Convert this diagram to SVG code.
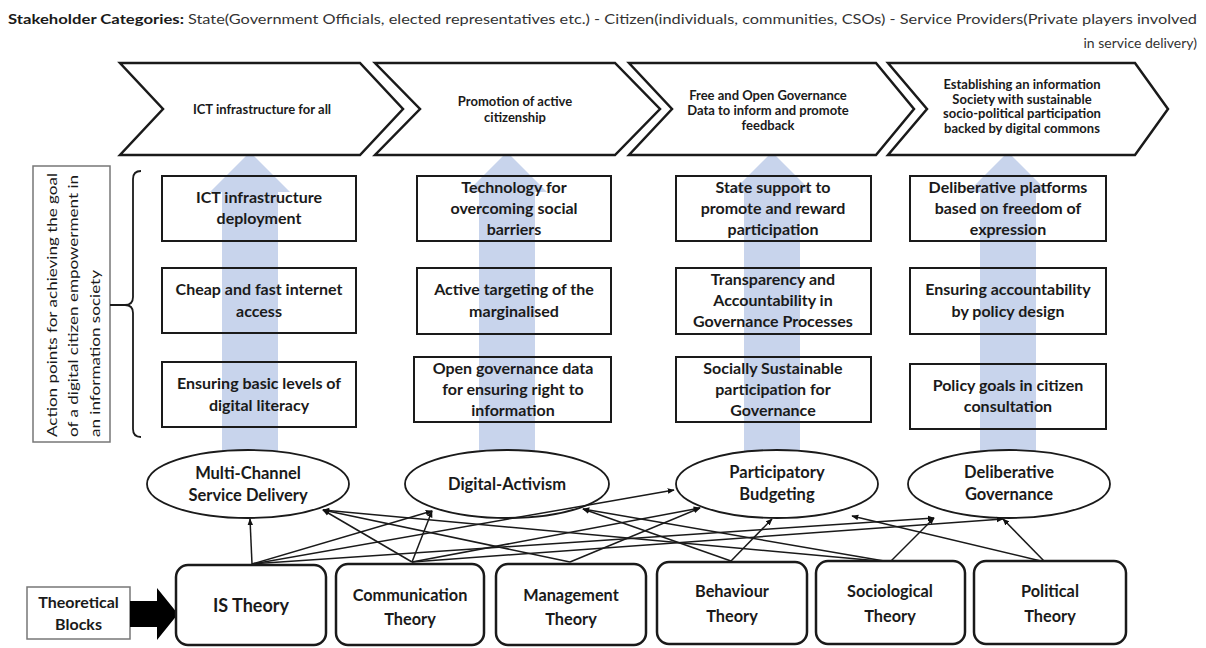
<svg xmlns="http://www.w3.org/2000/svg" width="1206" height="648" viewBox="0 0 1206 648">
<defs>
<style>
text{font-family:Lato,"Open Sans","Liberation Sans",sans-serif;fill:#1a1a1a}
.hb{font-weight:bold;font-size:14px}
.hr{font-size:14px;fill:#333}
.cv{fill:#fff;stroke:#1a1a1a;stroke-width:2.5;stroke-linejoin:miter}
.ct{font-weight:bold;font-size:13px;text-anchor:middle}
.bx{fill:none;stroke:#1a1a1a;stroke-width:2}
.bt{font-weight:bold;font-size:16px;text-anchor:middle}
.ba{fill:#c8d4ec}
.el{fill:#fff;stroke:#1a1a1a;stroke-width:1.8}
.et{font-weight:bold;font-size:16.5px;text-anchor:middle}
.tb{fill:#fff;stroke:#1a1a1a;stroke-width:2.5}
.tt{font-weight:bold;font-size:16.3px;text-anchor:middle}
.cn{stroke:#1a1a1a;stroke-width:1.5;fill:none;marker-end:url(#ah)}
.vt{font-size:14px}
</style>
<marker id="ah" viewBox="0 0 10 10" refX="9" refY="5" markerWidth="7" markerHeight="7" markerUnits="userSpaceOnUse" orient="auto"><path d="M0,1 L10,5 L0,9 z" fill="#111"/></marker>
</defs>
<rect width="1206" height="648" fill="#fff"/>

<g id="header">
<text x="8" y="24" class="hb" textLength="176" lengthAdjust="spacingAndGlyphs">Stakeholder Categories:</text>
<text x="188" y="24" class="hr" textLength="1009" lengthAdjust="spacingAndGlyphs">State(Government Officials, elected representatives etc.) - Citizen(individuals, communities, CSOs) - Service Providers(Private players involved</text>
<text x="1197" y="48" class="hr" text-anchor="end">in  service delivery)</text>
</g>

<g id="blue-arrows">
<path class="ba" d="M250,152 L290,192 L278,192 L278,460 L222,460 L222,192 L210,192 Z"/>
<path class="ba" d="M507,152 L547,192 L535,192 L535,460 L479,460 L479,192 L467,192 Z"/>
<path class="ba" d="M772,152 L812,192 L800,192 L800,460 L744,460 L744,192 L732,192 Z"/>
<path class="ba" d="M1008,152 L1048,192 L1036,192 L1036,460 L980,460 L980,192 L968,192 Z"/>
</g>

<g id="chevron1"><path class="cv" d="M120,63 L360,63 L403,109 L360,155 L120,155 L163,109 Z"/>
<text class="ct" x="262" y="114">ICT infrastructure for all</text></g>
<g id="chevron2"><path class="cv" d="M375,63 L615,63 L660,109 L615,155 L375,155 L420,109 Z"/>
<text class="ct" x="515" y="106">Promotion of active</text><text class="ct" x="515" y="122">citizenship</text></g>
<g id="chevron3"><path class="cv" d="M629,63 L876,63 L914,109 L876,155 L629,155 L672,109 Z"/>
<text class="ct" x="768" y="100">Free and Open Governance</text><text class="ct" x="768" y="115">Data to inform and promote</text><text class="ct" x="768" y="130">feedback</text></g>
<g id="chevron4"><path class="cv" d="M888,63 L1135,63 L1168,109 L1135,155 L888,155 L927,109 Z"/>
<text class="ct" x="1022" y="89">Establishing an information</text><text class="ct" x="1022" y="103.5">Society with sustainable</text><text class="ct" x="1022" y="118">socio-political participation</text><text class="ct" x="1022" y="132.5">backed by digital commons</text></g>

<g id="action-label">
<rect x="33" y="166" width="77" height="276" fill="none" stroke="#777" stroke-width="1.5"/>
<text class="vt" transform="translate(57,437) rotate(-90)" textLength="264" lengthAdjust="spacingAndGlyphs">Action points for achieving the goal</text>
<text class="vt" transform="translate(78,437) rotate(-90)" textLength="262" lengthAdjust="spacingAndGlyphs">of a digital citizen empowerment in</text>
<text class="vt" transform="translate(100,437) rotate(-90)" textLength="167" lengthAdjust="spacingAndGlyphs">an information society</text>
</g>
<g id="brace"><path d="M141,171 Q133,171 133,179 L133,297 Q133,305 125,305 L110,305 M125,305 Q133,305 133,313 L133,429 Q133,437 141,437" fill="none" stroke="#1a1a1a" stroke-width="1.8"/></g>

<g id="b11"><rect class="bx" x="162" y="176" width="194" height="65"/><text class="bt" x="259" y="203">ICT infrastructure</text><text class="bt" x="259" y="224">deployment</text></g>
<g id="b12"><rect class="bx" x="162" y="268" width="194" height="65"/><text class="bt" x="259" y="295">Cheap and fast internet</text><text class="bt" x="259" y="317">access</text></g>
<g id="b13"><rect class="bx" x="162" y="362" width="194" height="65"/><text class="bt" x="259" y="389">Ensuring basic levels of</text><text class="bt" x="259" y="411">digital literacy</text></g>

<g id="b21"><rect class="bx" x="417" y="176" width="194" height="65"/><text class="bt" x="514" y="192.5">Technology for</text><text class="bt" x="514" y="213.5">overcoming social</text><text class="bt" x="514" y="234.5">barriers</text></g>
<g id="b22"><rect class="bx" x="417" y="268" width="194" height="66"/><text class="bt" x="514" y="295">Active targeting of the</text><text class="bt" x="514" y="317">marginalised</text></g>
<g id="b23"><rect class="bx" x="414" y="357" width="197" height="65"/><text class="bt" x="513" y="373.5">Open governance data</text><text class="bt" x="513" y="394.5">for ensuring right to</text><text class="bt" x="513" y="415.5">information</text></g>

<g id="b31"><rect class="bx" x="676" y="176" width="195" height="65"/><text class="bt" x="773" y="192.5">State support to</text><text class="bt" x="773" y="213.5">promote and reward</text><text class="bt" x="773" y="234.5">participation</text></g>
<g id="b32"><rect class="bx" x="676" y="268" width="195" height="66"/><text class="bt" x="773" y="284.5">Transparency and</text><text class="bt" x="773" y="305.5">Accountability in</text><text class="bt" x="773" y="326.5">Governance Processes</text></g>
<g id="b33"><rect class="bx" x="676" y="357" width="195" height="65"/><text class="bt" x="773" y="373.5">Socially Sustainable</text><text class="bt" x="773" y="394.5">participation for</text><text class="bt" x="773" y="415.5">Governance</text></g>

<g id="b41"><rect class="bx" x="910" y="176" width="196" height="65"/><text class="bt" x="1008" y="192.5">Deliberative platforms</text><text class="bt" x="1008" y="213.5">based on freedom of</text><text class="bt" x="1008" y="234.5">expression</text></g>
<g id="b42"><rect class="bx" x="910" y="268" width="196" height="66"/><text class="bt" x="1008" y="295">Ensuring accountability</text><text class="bt" x="1008" y="317">by policy design</text></g>
<g id="b43"><rect class="bx" x="910" y="364" width="196" height="65"/><text class="bt" x="1008" y="391">Policy goals in citizen</text><text class="bt" x="1008" y="412">consultation</text></g>

<g id="e1"><ellipse class="el" cx="248" cy="484" rx="101" ry="34"/><text class="et" x="248" y="479">Multi-Channel</text><text class="et" x="248" y="501">Service Delivery</text></g>
<g id="e2"><ellipse class="el" cx="507" cy="484" rx="102" ry="34"/><text class="et" x="507" y="490">Digital-Activism</text></g>
<g id="e3"><ellipse class="el" cx="777" cy="484" rx="101" ry="34"/><text class="et" x="777" y="478">Participatory</text><text class="et" x="777" y="500">Budgeting</text></g>
<g id="e4"><ellipse class="el" cx="1009" cy="484" rx="101" ry="34"/><text class="et" x="1009" y="478">Deliberative</text><text class="et" x="1009" y="500">Governance</text></g>

<g id="connectors">
<line class="cn" x1="252" y1="564" x2="250" y2="519"/>
<line class="cn" x1="252" y1="564" x2="432" y2="511"/>
<line class="cn" x1="252" y1="564" x2="674" y2="490"/>
<line class="cn" x1="252" y1="564" x2="934" y2="518"/>
<line class="cn" x1="412" y1="562" x2="323" y2="510"/>
<line class="cn" x1="412" y1="562" x2="432" y2="511"/>
<line class="cn" x1="412" y1="562" x2="700" y2="508"/>
<line class="cn" x1="412" y1="562" x2="1003" y2="519"/>
<line class="cn" x1="570" y1="562" x2="323" y2="510"/>
<line class="cn" x1="570" y1="562" x2="700" y2="508"/>
<line class="cn" x1="731" y1="561" x2="583" y2="509"/>
<line class="cn" x1="731" y1="561" x2="772" y2="519"/>
<line class="cn" x1="890" y1="562" x2="323" y2="510"/>
<line class="cn" x1="890" y1="562" x2="583" y2="509"/>
<line class="cn" x1="890" y1="562" x2="934" y2="518"/>
<line class="cn" x1="1045" y1="562" x2="852" y2="516"/>
<line class="cn" x1="1045" y1="562" x2="1003" y2="519"/>
</g>

<g id="theoretical-blocks"><rect x="27" y="587" width="103" height="52" fill="#fff" stroke="#777" stroke-width="1.5"/><text class="bt" x="78.5" y="608">Theoretical</text><text class="bt" x="78.5" y="630">Blocks</text></g>
<g id="block-arrow"><path d="M130,601 L157,601 L157,588 L178,614 L157,640 L157,627 L130,627 Z" fill="#000"/></g>

<g id="t-is"><rect class="tb" x="176" y="565" width="150" height="80" rx="12"/><text class="tt" x="251" y="612" style="font-size:18px">IS Theory</text></g>
<g id="t-comm"><rect class="tb" x="336" y="564" width="148" height="81" rx="12"/><text class="tt" x="410" y="601">Communication</text><text class="tt" x="410" y="625">Theory</text></g>
<g id="t-mgmt"><rect class="tb" x="496" y="564" width="150" height="81" rx="12"/><text class="tt" x="571" y="601">Management</text><text class="tt" x="571" y="625">Theory</text></g>
<g id="t-beh"><rect class="tb" x="657" y="562" width="150" height="82" rx="12"/><text class="tt" x="732" y="597">Behaviour</text><text class="tt" x="732" y="622">Theory</text></g>
<g id="t-soc"><rect class="tb" x="816" y="561" width="149" height="83" rx="12"/><text class="tt" x="890" y="597">Sociological</text><text class="tt" x="890" y="622">Theory</text></g>
<g id="t-pol"><rect class="tb" x="974" y="561" width="152" height="83" rx="12"/><text class="tt" x="1050" y="597">Political</text><text class="tt" x="1050" y="622">Theory</text></g>
</svg>
